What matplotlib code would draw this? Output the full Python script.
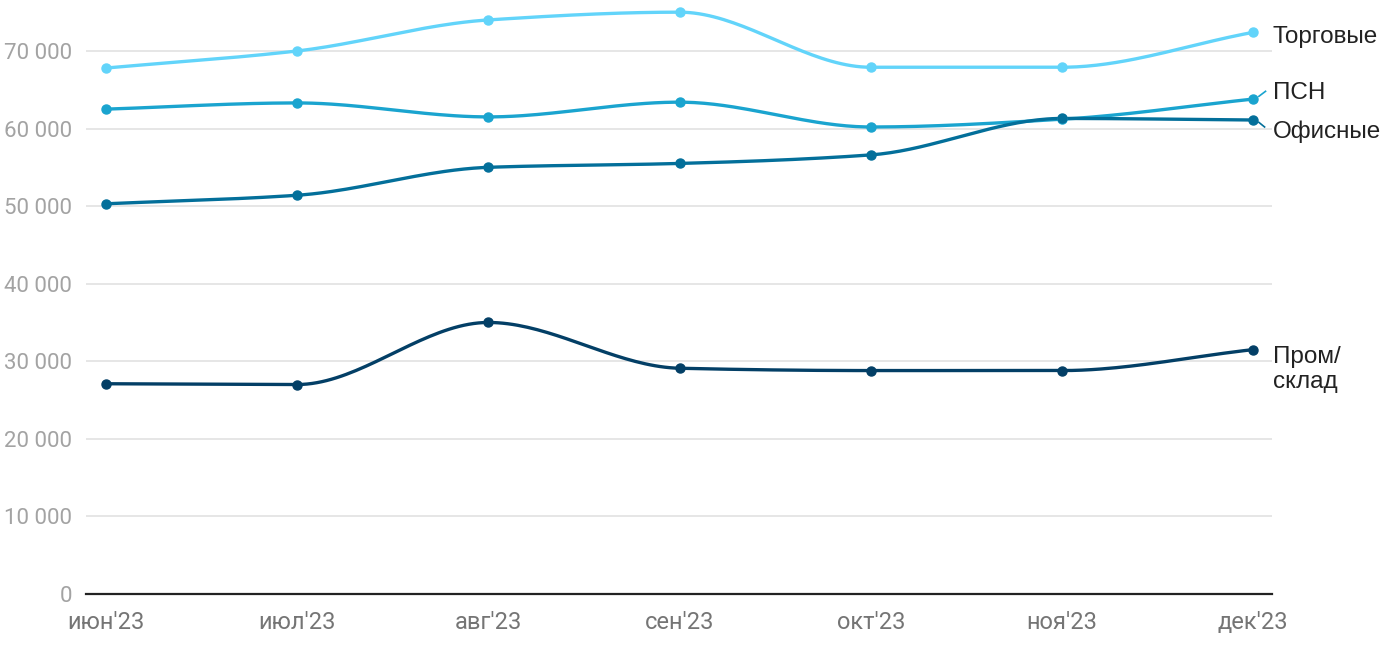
import numpy as np
import matplotlib.pyplot as plt

plt.rcParams['font.family'] = ['Roboto', 'DejaVu Sans']

# Data
months = ["июн'23", "июл'23", "авг'23", "сен'23", "окт'23", "ноя'23", "дек'23"]
torgovye = [67800, 70000, 74000, 75000, 67900, 67900, 72400]
psn = [62500, 63300, 61500, 63400, 60200, 61200, 63800]
ofisnye = [50300, 51400, 55000, 55500, 56600, 61300, 61100]
prom = [27100, 27000, 35000, 29100, 28800, 28800, 31500]

names = ['Торговые', 'ПСН', 'Офисные', 'Пром/\nсклад']
colors = ['#62d4fa', '#1aa4cf', '#036f9a', '#033f66']


def monotone(x, y, n=40):
    # monotone cubic (Fritsch-Carlson) curve through the points, for drawing
    x = np.asarray(x, float)
    y = np.asarray(y, float)
    h = np.diff(x)
    d = np.diff(y) / h
    m = np.zeros_like(y)
    m[0], m[-1] = d[0], d[-1]
    for i in range(1, len(y) - 1):
        if d[i - 1] * d[i] <= 0:
            m[i] = 0
        else:
            m[i] = 3 * (h[i - 1] + h[i]) / ((2 * h[i] + h[i - 1]) / d[i - 1] + (h[i] + 2 * h[i - 1]) / d[i])
    xs, ys = [], []
    for i in range(len(x) - 1):
        t = np.linspace(0, 1, n)
        h00 = 2 * t**3 - 3 * t**2 + 1
        h10 = t**3 - 2 * t**2 + t
        h01 = -2 * t**3 + 3 * t**2
        h11 = t**3 - t**2
        xs.append(x[i] + t * h[i])
        ys.append(h00 * y[i] + h10 * h[i] * m[i] + h01 * y[i + 1] + h11 * h[i] * m[i + 1])
    return np.concatenate(xs), np.concatenate(ys)


fig = plt.figure(figsize=(14, 6.5), dpi=100)
ax = fig.add_axes([0.0614, 0.0862, 0.8472, 0.907])

x = np.arange(len(months))
series = [torgovye, psn, ofisnye, prom]
for vals, c in zip(series, colors):
    sx, sy = monotone(x, vals)
    ax.plot(sx, sy, color=c, lw=2.4, solid_capstyle='round', zorder=3, clip_on=False)
    ax.plot(x, vals, 'o', color=c, ms=6.5, zorder=4, clip_on=False)

ax.set_xlim(-0.1046, 6.099)
ax.set_ylim(0, 76000)
ax.set_yticks(range(0, 70001, 10000))
ax.set_yticklabels(['0' if v == 0 else f'{v // 1000} 000' for v in range(0, 70001, 10000)])
ax.set_xticks(x)
ax.set_xticklabels(months)
ax.tick_params(axis='y', length=0, pad=10, labelsize=16, labelcolor='#a3a3a3')
ax.tick_params(axis='x', length=0, pad=12, labelsize=17, labelcolor='#757575')
ax.grid(axis='y', color='#e2e2e2', lw=1.2)
ax.set_axisbelow(True)
for s in ['top', 'right', 'left']:
    ax.spines[s].set_visible(False)
ax.spines['bottom'].set_color('#222222')
ax.spines['bottom'].set_linewidth(1.6)
ax.spines['bottom'].set_zorder(5)

# end labels
label_y = [71800, 64600, 59550, 28950]
for name, ly in zip(names, label_y):
    ax.text(6.104, ly, name, fontsize=17.5, color='#222222', ha='left', va='center',
            family=['Liberation Sans', 'DejaVu Sans'], linespacing=1.2, clip_on=False)

# small connectors for the shifted labels
ax.plot([6.03, 6.065], [psn[-1] + 350, psn[-1] + 1000], color=colors[1], lw=1.2, clip_on=False)
ax.plot([6.03, 6.06], [ofisnye[-1] - 300, ofisnye[-1] - 900], color=colors[2], lw=1.2, clip_on=False)

fig.savefig('out.png', dpi=100)
